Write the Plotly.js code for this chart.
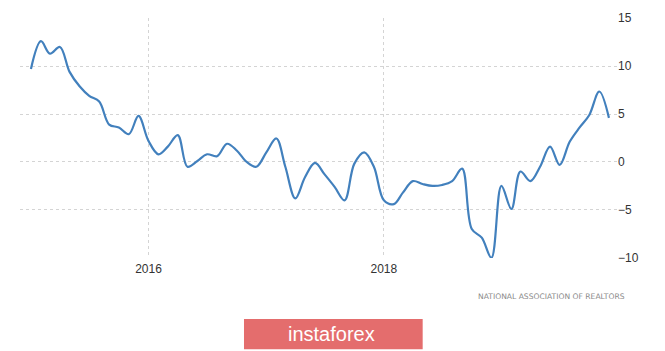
<!DOCTYPE html>
<html>
<head>
<meta charset="utf-8">
<script src="https://cdn.plot.ly/plotly-3.0.1.min.js"></script>
<style>
html,body{margin:0;padding:0;background:#fff;}
#chart{width:665px;height:351px;}
</style>
</head>
<body>
<div id="chart"></div>
<script>
// Monthly data, Jan 2015 - Dec 2019 (year-over-year % change)
const startYear = 2015;
const values = [
  9.7, 12.6, 11.3, 12.0, 9.4, 7.9, 6.9, 6.3, 3.9, 3.6, 2.9, 4.8,
  2.2, 0.8, 1.6, 2.8, -0.5, 0.1, 0.8, 0.6, 1.9, 1.2, 0.0, -0.5,
  1.0, 2.45, -0.5, -3.8, -1.6, -0.1, -1.3, -2.6, -4.0, -0.2, 1.0, -0.5,
  -4.0, -4.4, -3.2, -2.0, -2.3, -2.5, -2.4, -2.0, -0.7, -7.0, -7.9, -10.0,
  -2.5, -4.9, -1.0, -2.0, -0.5, 1.6, -0.3, 2.1, 3.6, 4.9, 7.35, 4.6
];
const dates = values.map((v, i) => {
  const y = startYear + Math.floor(i / 12);
  const m = (i % 12) + 1;
  return y + '-' + String(m).padStart(2, '0') + '-01';
});
const xTickVals = ['2016-01-01', '2018-01-01'];
const xTickText = ['2016', '2018'];
const yTickVals = [-10, -5, 0, 5, 10, 15];
const sourceText = 'NATIONAL ASSOCIATION OF REALTORS';
const logoText = 'instaforex';

const trace = {
  x: dates,
  y: values,
  type: 'scatter',
  mode: 'lines',
  line: {color: '#4280bd', width: 2.2, shape: 'spline', smoothing: 1},
  hoverinfo: 'skip'
};

const layout = {
  width: 665,
  height: 351,
  margin: {l: 20, r: 48, t: 18, b: 93},
  paper_bgcolor: '#ffffff',
  plot_bgcolor: '#ffffff',
  showlegend: false,
  font: {family: 'Liberation Sans, Arial, sans-serif', color: '#333333', size: 11},
  xaxis: {
    type: 'date',
    range: ['2014-11-28', '2019-12-26'],
    tickvals: xTickVals,
    ticktext: xTickText,
    showgrid: true,
    gridcolor: '#d4d4d4',
    griddash: 'dot',
    gridwidth: 1,
    zeroline: false,
    showline: false,
    ticks: '',
    ticklabelstandoff: 2,
    tickfont: {size: 12, color: '#333333'}
  },
  yaxis: {
    side: 'right',
    range: [-10.02, 15.02],
    tickvals: yTickVals,
    showgrid: true,
    gridcolor: '#d4d4d4',
    griddash: 'dot',
    gridwidth: 1,
    zeroline: false,
    showline: false,
    ticks: '',
    ticklabelstandoff: 0,
    tickfont: {size: 12, color: '#333333'}
  },
  shapes: [
    {type: 'rect', xref: 'paper', yref: 'paper',
     x0: 0.3752, x1: 0.6745, y0: -0.380, y1: -0.254,
     fillcolor: '#e46d6d', line: {width: 0}, layer: 'above'}
  ],
  annotations: [
    {text: sourceText, xref: 'paper', yref: 'paper', x: 0.8903, y: -0.161,
     xanchor: 'center', yanchor: 'middle', showarrow: false,
     font: {family: 'DejaVu Sans, sans-serif', size: 7.6, color: '#8a8a8a'}},
    {text: logoText, xref: 'paper', yref: 'paper', x: 0.5226, y: -0.3167,
     xanchor: 'center', yanchor: 'middle', showarrow: false,
     font: {family: 'Liberation Sans, Arial, sans-serif', size: 20, color: '#ffffff'}}
  ]
};

Plotly.newPlot('chart', [trace], layout, {staticPlot: true, displayModeBar: false});
</script>
</body>
</html>
